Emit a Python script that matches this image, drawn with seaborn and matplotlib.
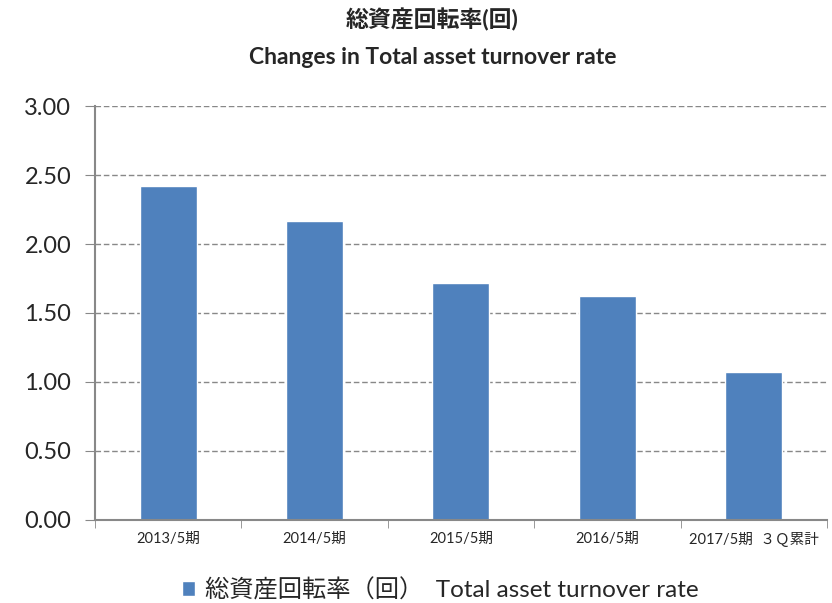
import numpy as np
import pandas as pd
import matplotlib
matplotlib.use("Agg")
import matplotlib.pyplot as plt
import seaborn as sns

# data
periods = ["2013/5期", "2014/5期", "2015/5期", "2016/5期", "2017/5期  ３Ｑ累計"]
turnover = [2.42, 2.17, 1.72, 1.62, 1.07]
series_name = "総資産回転率（回）  Total asset turnover rate"

df = pd.DataFrame({"period": periods, "rate": turnover, "series": series_name})

sns.set_style("white")
plt.rcParams["font.family"] = ["Lato", "Noto Sans CJK JP", "DejaVu Sans"]

fig = plt.figure(figsize=(8.32, 6.03), dpi=100)
ax = fig.add_axes([0.114, 0.138, 0.88, 0.686])

sns.barplot(data=df, x="period", y="rate", hue="series", color="#4F81BD",
            palette=["#4F81BD"], width=0.39, ax=ax, saturation=1)

ax.set_ylim(0, 3)
ax.set_yticks(np.arange(0, 3.01, 0.5))
ax.set_yticklabels([f"{v:.2f}" for v in np.arange(0, 3.01, 0.5)], fontsize=17)
ax.set_xlim(-0.5, len(periods) - 0.5)
ax.set_xlabel("")
ax.set_ylabel("")
ax.tick_params(axis="x", labelsize=10.5, length=0, pad=9)
ax.tick_params(axis="y", length=7, color="#888888", direction="out", left=True, pad=10)

# boundary ticks along x, Excel style
ax.set_xticks(np.arange(-0.5, len(periods) + 0.5, 1), minor=True)
ax.tick_params(axis="x", which="minor", length=6, color="#888888", bottom=True)

ax.yaxis.grid(True, linestyle=(0, (4, 2)), color="#888888", linewidth=1)
ax.set_axisbelow(True)
for side in ["top", "right"]:
    ax.spines[side].set_visible(False)
for side in ["left", "bottom"]:
    ax.spines[side].set_color("#888888")
    ax.spines[side].set_linewidth(1.5)

fig.text(0.52, 0.968, "総資産回転率(回)", ha="center", va="center",
         fontsize=16.5, fontweight="bold")
fig.text(0.52, 0.905, "Changes in Total asset turnover rate", ha="center",
         va="center", fontsize=16.5, fontweight="bold")

ax.legend(loc="center", bbox_to_anchor=(0.472, -0.169), frameon=False,
          fontsize=17.5, handlelength=0.55, handleheight=0.55, handletextpad=0.4)

fig.savefig("out.png", dpi=100)
